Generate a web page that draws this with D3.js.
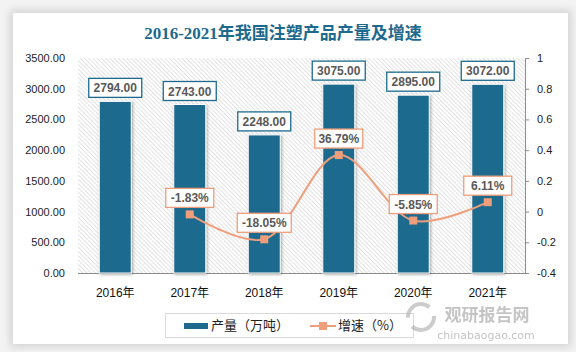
<!DOCTYPE html>
<html>
<head>
<meta charset="utf-8">
<script src="https://cdn.jsdelivr.net/npm/d3@7"></script>
<style>
  html, body { margin: 0; padding: 0; background: #f3f3f3; }
  body { width: 576px; height: 352px; overflow: hidden; position: relative; }
  #card { position: absolute; left: 13px; top: 13px; width: 555px; height: 331px; background: #fff;
          box-shadow: 0 0 8px 3px rgba(0,0,0,0.13); }
  svg { position: absolute; left: 0; top: 0; }
</style>
</head>
<body>
<div id="card"></div>
<script>
document.addEventListener('DOMContentLoaded', function(){

    // data
    const years = ['2016年', '2017年', '2018年', '2019年', '2020年', '2021年']
    const output = [2794, 2743, 2248, 3075, 2895, 3072]
    const growth = [null, -0.0183, -0.1805, 0.3679, -0.0585, 0.0611]
    const leftTicks = [0, 500, 1000, 1500, 2000, 2500, 3000, 3500]
    const rightTicks = [-0.4, -0.2, 0, 0.2, 0.4, 0.6, 0.8, 1]

    const width = 576
    const height = 352
    const plot = {"left": 78, "right": 525, "top": 58, "bottom": 273}

    const teal = '#1d6a8e'
    const salmon = '#ee9e7b'
    const labelColor = '#595959'

    // plain hyphen instead of d3's unicode minus
    const fmt2 = v => v.toFixed(2)
    const fmtRight = v => String(+v.toFixed(1))

    const svg = d3.select("body")
        .append("svg")
        .attr("width", width)
        .attr("height", height)

    const defs = svg.append('defs')
    const hatch = defs.append('pattern')
        .attr('id', 'hatch')
        .attr('patternUnits', 'userSpaceOnUse')
        .attr('width', 3)
        .attr('height', 3)
        .attr('patternTransform', 'rotate(-45)')
    hatch.append('rect').attr('width', 3).attr('height', 3).attr('fill', '#fff')
    hatch.append('line')
        .attr('x1', 0).attr('y1', 0).attr('x2', 0).attr('y2', 3)
        .attr('stroke', '#cfcfcf').attr('stroke-width', 1.2)

    const shadow = defs.append('filter')
        .attr('id', 'shadow')
        .attr('x', '-30%').attr('y', '-10%').attr('width', '160%').attr('height', '130%')
    shadow.append('feDropShadow')
        .attr('dx', 1).attr('dy', 1).attr('stdDeviation', 1.5)
        .attr('flood-color', '#000').attr('flood-opacity', 0.35)

    // title
    svg.append('text')
        .attr('x', 283)
        .attr('y', 39)
        .attr('text-anchor', 'middle')
        .style('font-family', '"Liberation Serif", "Noto Sans CJK SC", serif')
        .style('font-weight', 'bold')
        .style('font-size', '17px')
        .style('fill', '#1d6a8e')
        .text('2016-2021年我国注塑产品产量及增速')

    // scales
    const xScale = d3.scaleBand()
        .domain(years)
        .range([plot.left, plot.right])

    const yLeft = d3.scaleLinear()
        .domain([0, 3500])
        .range([plot.bottom, plot.top])

    const yRight = d3.scaleLinear()
        .domain([-0.4, 1])
        .range([plot.bottom, plot.top])

    // hatched plot background
    svg.append('rect')
        .attr('x', plot.left)
        .attr('y', plot.top)
        .attr('width', plot.right - plot.left)
        .attr('height', plot.bottom - plot.top)
        .attr('fill', 'url(#hatch)')

    // left axis
    const leftAxis = svg.append("g")
        .attr('transform', `translate(${plot.left}, 0)`)
        .call(d3.axisLeft(yLeft).tickValues(leftTicks).tickFormat(fmt2).tickSize(0).tickPadding(13))
    leftAxis.select('.domain').remove()
    leftAxis.selectAll('text')
        .style('font-family', '"Liberation Sans", Arial, sans-serif')
        .style('font-size', '11px')
        .style('fill', '#222')

    // right axis
    const rightAxis = svg.append("g")
        .attr('transform', `translate(${plot.right}, 0)`)
        .call(d3.axisRight(yRight).tickValues(rightTicks).tickFormat(fmtRight).tickSizeOuter(0).tickSize(4).tickPadding(8))
    rightAxis.select('.domain').attr('stroke', '#8c8c8c')
    rightAxis.selectAll('line').attr('stroke', '#8c8c8c')
    rightAxis.selectAll('text')
        .style('font-family', '"Liberation Sans", Arial, sans-serif')
        .style('font-size', '11px')
        .style('fill', '#222')

    // bottom axis
    const bottomAxis = svg.append("g")
        .attr('transform', `translate(0, ${plot.bottom})`)
        .call(d3.axisBottom(xScale).tickSize(0).tickPadding(15))
    bottomAxis.select('.domain').attr('stroke', '#8c8c8c').attr('d', `M${plot.left},0.5H${plot.right}`)
    bottomAxis.selectAll('text')
        .style('font-family', '"Liberation Sans", "Noto Sans CJK SC", sans-serif')
        .style('font-size', '12px')
        .style('fill', '#111')

    // bars
    const barW = 32
    svg.append('g')
        .selectAll('rect')
        .data(output)
        .enter()
        .append('rect')
            .attr('x', (d, i) => xScale(years[i]) + xScale.bandwidth() / 2 - barW / 2)
            .attr('y', d => yLeft(d))
            .attr('width', barW)
            .attr('height', d => yLeft(0) - yLeft(d))
            .attr('fill', teal)
            .attr('stroke', '#fff')
            .attr('stroke-width', 1)
            .attr('filter', 'url(#shadow)')

    // bar labels
    const barLabels = svg.append('g')
        .selectAll('g')
        .data(output)
        .enter()
        .append('g')
            .attr('transform', (d, i) => `translate(${xScale(years[i]) + xScale.bandwidth() / 2}, ${yLeft(d) - 4})`)
    barLabels.append('rect')
        .attr('x', -26.5).attr('y', -19)
        .attr('width', 53).attr('height', 19)
        .attr('fill', '#fff')
        .attr('stroke', teal)
        .attr('stroke-width', 1.3)
    barLabels.append('text')
        .attr('y', -5)
        .attr('text-anchor', 'middle')
        .style('font-family', '"Liberation Sans", Arial, sans-serif')
        .style('font-weight', 'bold')
        .style('font-size', '12px')
        .style('fill', labelColor)
        .text(d => fmt2(d))

    // growth line
    const pts = growth.map((g, i) => ({g: g, year: years[i]})).filter(d => d.g !== null)
    const line = d3.line()
        .x(d => xScale(d.year) + xScale.bandwidth() / 2)
        .y(d => yRight(d.g))
        .curve(d3.curveCatmullRom.alpha(0.5))

    svg.append('path')
        .datum(pts)
        .attr('d', line)
        .attr('fill', 'none')
        .attr('stroke', salmon)
        .attr('stroke-width', 2)

    svg.append('g')
        .selectAll('rect')
        .data(pts)
        .enter()
        .append('rect')
            .attr('x', d => xScale(d.year) + xScale.bandwidth() / 2 - 4)
            .attr('y', d => yRight(d.g) - 4)
            .attr('width', 8)
            .attr('height', 8)
            .attr('fill', salmon)

    const growthLabels = svg.append('g')
        .selectAll('g')
        .data(pts)
        .enter()
        .append('g')
            .attr('transform', d => `translate(${xScale(d.year) + xScale.bandwidth() / 2}, ${yRight(d.g) - 7})`)
    growthLabels.append('rect')
        .attr('x', d => d.g < -0.1 ? -27 : -24)
        .attr('y', -19)
        .attr('width', d => d.g < -0.1 ? 54 : 48)
        .attr('height', 19)
        .attr('fill', '#fff')
        .attr('stroke', salmon)
        .attr('stroke-width', 1.3)
    growthLabels.append('text')
        .attr('y', -5)
        .attr('text-anchor', 'middle')
        .style('font-family', '"Liberation Sans", Arial, sans-serif')
        .style('font-weight', 'bold')
        .style('font-size', '12px')
        .style('fill', labelColor)
        .text(d => fmt2(d.g * 100) + '%')

    // legend
    const legend = svg.append('g')
    legend.append('rect')
        .attr('x', 165.5).attr('y', 313.5)
        .attr('width', 248).attr('height', 24)
        .attr('fill', '#fff')
        .attr('stroke', '#d9d9d9')
    legend.append('rect')
        .attr('x', 184).attr('y', 323)
        .attr('width', 24).attr('height', 6)
        .attr('fill', teal)
    legend.append('text')
        .attr('x', 211).attr('y', 330)
        .style('font-family', '"Noto Sans CJK SC", sans-serif')
        .style('font-size', '13px')
        .style('fill', '#222')
        .text('产量（万吨）')
    legend.append('line')
        .attr('x1', 310).attr('x2', 336).attr('y1', 326).attr('y2', 326)
        .attr('stroke', salmon).attr('stroke-width', 2)
    legend.append('rect')
        .attr('x', 319).attr('y', 322)
        .attr('width', 8).attr('height', 8)
        .attr('fill', salmon)
    legend.append('text')
        .attr('x', 338).attr('y', 330)
        .style('font-family', '"Noto Sans CJK SC", sans-serif')
        .style('font-size', '13px')
        .style('fill', '#222')
        .text('增速（%）')

    // watermark
    const wm = svg.append('g').attr('opacity', 0.5)
    wm.append('circle')
        .attr('cx', 421).attr('cy', 317).attr('r', 13)
        .attr('fill', 'none').attr('stroke', '#9a9a9a').attr('stroke-width', 4)
        .attr('stroke-dasharray', '30 10')
    wm.append('text')
        .attr('x', 487).attr('y', 321)
        .attr('text-anchor', 'middle')
        .style('font-family', '"Noto Sans CJK SC", sans-serif')
        .style('font-weight', 'bold')
        .style('font-size', '17px')
        .style('fill', '#8a8a8a')
        .text('观研报告网')
    wm.append('text')
        .attr('x', 486).attr('y', 339)
        .attr('text-anchor', 'middle')
        .style('font-family', '"DejaVu Sans", sans-serif')
        .style('font-size', '11px')
        .style('fill', '#8a8a8a')
        .text('chinabaogao.com')
});
</script>
</body>
</html>
